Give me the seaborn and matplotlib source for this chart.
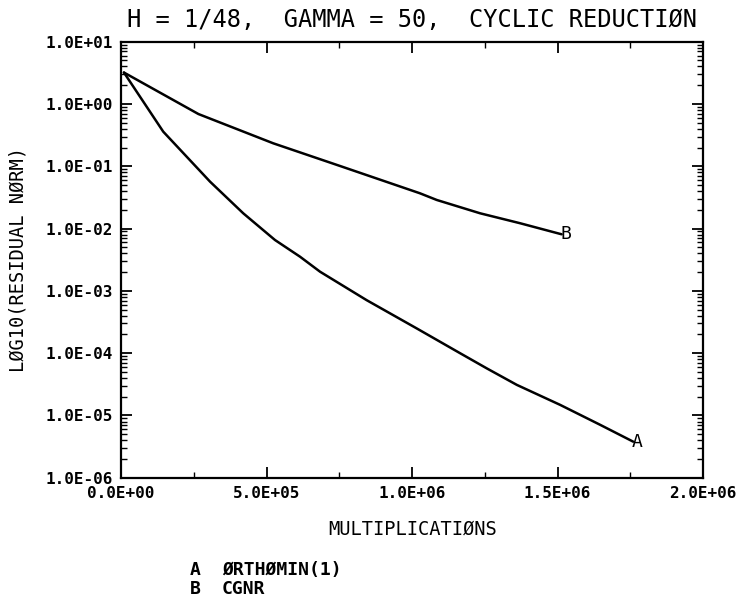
import matplotlib
matplotlib.use("Agg")
import matplotlib.pyplot as plt
import matplotlib.ticker as mticker
import seaborn as sns
import pandas as pd
import numpy as np

# ---- data ----
orthomin_mults = [0.01e6, 0.145e6, 0.306e6, 0.42e6, 0.529e6, 0.615e6, 0.684e6, 0.844e6,
                  1.016e6, 1.165e6, 1.257e6, 1.36e6, 1.509e6, 1.646e6, 1.760e6]
orthomin_resid = [3.2, 0.36, 0.0566, 0.0176, 0.00656, 0.00354, 0.00203, 7.1e-4,
                  2.5e-4, 1.0e-4, 5.7e-5, 3.1e-5, 1.48e-5, 7.1e-6, 3.8e-6]
cgnr_mults = [0.01e6, 0.266e6, 0.523e6, 0.753e6, 1.027e6, 1.085e6, 1.234e6, 1.371e6, 1.514e6]
cgnr_resid = [3.2, 0.69, 0.234, 0.101, 0.0369, 0.0288, 0.0176, 0.0122, 0.0081]

series_letters = ["A", "B"]
series_names = ["ØRTHØMIN(1)", "CGNR"]
x_ticks = [0, 0.5e6, 1.0e6, 1.5e6, 2.0e6]
x_tick_labels = ["0.0E+00", "5.0E+05", "1.0E+06", "1.5E+06", "2.0E+06"]
y_ticks = [1e1, 1e0, 1e-1, 1e-2, 1e-3, 1e-4, 1e-5, 1e-6]
y_tick_labels = ["1.0E+01", "1.0E+00", "1.0E-01", "1.0E-02", "1.0E-03", "1.0E-04", "1.0E-05", "1.0E-06"]

title = "H = 1/48,  GAMMA = 50,  CYCLIC REDUCTIØN"
xlabel = "MULTIPLICATIØNS"
ylabel = "LØG10(RESIDUAL NØRM)"

df = pd.concat([
    pd.DataFrame({"mult": orthomin_mults, "resid": orthomin_resid, "series": "A"}),
    pd.DataFrame({"mult": cgnr_mults, "resid": cgnr_resid, "series": "B"}),
], ignore_index=True)

sns.set_theme(style="ticks")
plt.rcParams["font.family"] = ["DejaVu Sans Mono", "DejaVu Sans"]

fig = plt.figure(figsize=(7.38, 6.07), dpi=100)
ax = fig.add_axes([0.164, 0.2129, 0.9526 - 0.164, 0.9313 - 0.2129])

sns.lineplot(data=df, x="mult", y="resid", units="series", estimator=None, sort=False,
             color="black", linewidth=1.8, ax=ax, legend=False)

ax.set_yscale("log")
ax.set_xlim(0, 2.0e6)
ax.set_ylim(1e-6, 1e1)

ax.set_xticks(x_ticks)
ax.set_xticklabels(x_tick_labels, fontsize=11.5, fontweight="bold")
ax.xaxis.set_minor_locator(mticker.MultipleLocator(0.25e6))
ax.set_yticks(y_ticks)
ax.set_yticklabels(y_tick_labels, fontsize=11.5, fontweight="bold")
ax.yaxis.set_minor_locator(mticker.LogLocator(base=10, subs=np.arange(2, 10)))
ax.yaxis.set_minor_formatter(mticker.NullFormatter())

ax.tick_params(axis="both", which="major", direction="in", length=8, width=1.3,
               top=True, right=True, colors="black", pad=6)
ax.tick_params(axis="both", which="minor", direction="in", length=4, width=1.0,
               top=True, right=True, colors="black")
for s in ax.spines.values():
    s.set_visible(True)
    s.set_color("black")
    s.set_linewidth(1.6)

ax.set_xlabel("")
ax.set_ylabel("")

# end-of-curve letters
ax.annotate("A", (orthomin_mults[-1], orthomin_resid[-1]), xytext=(-1, 0), textcoords="offset points",
            ha="left", va="center", fontsize=13, color="black")
ax.annotate("B", (cgnr_mults[-1], cgnr_resid[-1]), xytext=(-1, 0), textcoords="offset points",
            ha="left", va="center", fontsize=13, color="black")

fig.text(0.5585, 1 - 20 / 607, title, ha="center", va="center", fontsize=17, color="black")
fig.text(0.5585, 1 - 529 / 607, xlabel, ha="center", va="center", fontsize=13.5, color="black")
fig.text(18 / 738, 1 - 260 / 607, ylabel, ha="center", va="center", rotation=90, fontsize=13.5, color="black")

for i, (let, name) in enumerate(zip(series_letters, series_names)):
    yy = 1 - (570 + i * 19) / 607
    fig.text(190 / 738, yy, let, ha="left", va="center", fontsize=13, fontweight="bold", color="black")
    fig.text(222 / 738, yy, name, ha="left", va="center", fontsize=13, fontweight="bold", color="black")

fig.savefig("out.png", dpi=100, facecolor="white")
